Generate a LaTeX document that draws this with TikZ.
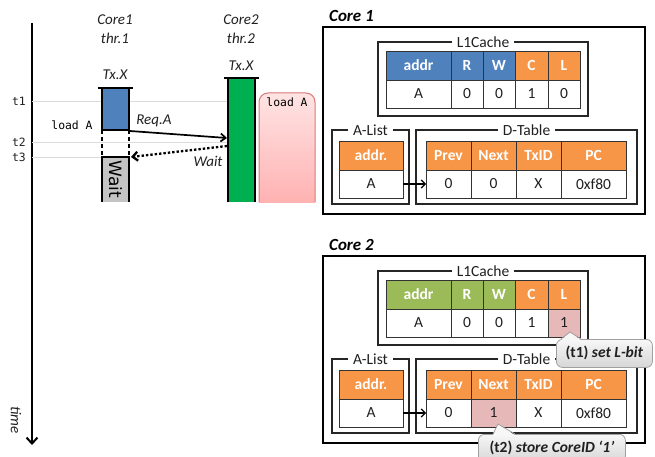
\documentclass[tikz,border=0pt]{standalone}
\usepackage{fontspec}
\setmainfont{Carlito}
\newfontfamily\monofont{DejaVu Sans Mono}
\newfontfamily\dejavufont{DejaVu Sans}
\usetikzlibrary{arrows.meta,calc}

\definecolor{hdrblue}{HTML}{4F81BD}
\definecolor{hdrorange}{HTML}{F79646}
\definecolor{hdrgreen}{HTML}{9BBB59}
\definecolor{txgreen}{HTML}{00B050}
\definecolor{markpink}{HTML}{E6B8B7}
\definecolor{loadedge}{HTML}{D9787A}
\definecolor{loadtop}{HTML}{FFE4E4}
\definecolor{loadbot}{HTML}{FFB2B2}
\definecolor{gridgray}{HTML}{DCDCDC}
\definecolor{waitgray}{HTML}{C4C4C4}
\definecolor{inktext}{HTML}{202020}
\definecolor{calltop}{HTML}{F7F7F7}
\definecolor{callbot}{HTML}{D6D6D6}
\definecolor{calledge}{HTML}{A0A0A0}

% one table cell: style, name, left x, right x, top y, text
\newcommand\tcell[6]{\node[#1, minimum width={(#4)-(#3)}] (#2) at (#3,#5) {#6};}

% one core panel: prefix, y shift, title, cache header colour,
% L fill, L value, Next fill, Next value
\newcommand\corepanel[8]{%
\begin{scope}[yshift=-#2pt]
  \node[paneltitle] (#1title) at (329,16) {#3};
  \node[panelbox, minimum width=322, minimum height=187] (#1panel) at (323,27) {};
  % L1 cache
  \node[groupbox, minimum width=210, minimum height=74] (#1cachegrp) at (378,42) {};
  \node[grouplabel] (#1cachelbl) at (#1cachegrp.north) {L1Cache};
  \tcell{hdr=#4}{#1haddr}{386}{451}{51}{addr}
  \tcell{hdr=#4}{#1hR}{451}{483}{51}{R}
  \tcell{hdr=#4}{#1hW}{483}{515}{51}{W}
  \tcell{hdr=hdrorange}{#1hC}{515}{548}{51}{C}
  \tcell{hdr=hdrorange}{#1hL}{548}{580}{51}{L}
  \tcell{val}{#1vaddr}{386}{451}{80}{A}
  \tcell{val}{#1vR}{451}{483}{80}{0}
  \tcell{val}{#1vW}{483}{515}{80}{0}
  \tcell{val}{#1vC}{515}{548}{80}{1}
  \tcell{val=#5}{#1vL}{548}{580}{80}{#6}
  % A-List
  \node[groupbox, minimum width=77, minimum height=74] (#1alistgrp) at (332,130) {};
  \node[grouplabel] (#1alistlbl) at (#1alistgrp.north) {A-List};
  \tcell{hdr=hdrorange}{#1haaddr}{339}{403}{141}{addr.}
  \tcell{val}{#1vaaddr}{339}{403}{170}{A}
  % D-Table
  \node[groupbox, minimum width=221, minimum height=74] (#1dtabgrp) at (416,130) {};
  \node[grouplabel] (#1dtablbl) at (#1dtabgrp.north) {D-Table};
  \tcell{hdr=hdrorange}{#1hprev}{426}{471}{141}{Prev}
  \tcell{hdr=hdrorange}{#1hnext}{471}{516}{141}{Next}
  \tcell{hdr=hdrorange}{#1htxid}{516}{561}{141}{TxID}
  \tcell{hdr=hdrorange}{#1hpc}{561}{626}{141}{PC}
  \tcell{val}{#1vprev}{426}{471}{170}{0}
  \tcell{val=#7}{#1vnext}{471}{516}{170}{#8}
  \tcell{val}{#1vtxid}{516}{561}{170}{X}
  \tcell{val}{#1vpc}{561}{626}{170}{0xf80}
  \draw[linkarrow] (#1vaaddr.east) -- (#1vprev.west);
\end{scope}}

\begin{document}
\begin{tikzpicture}[x=1pt,y=-1pt,
  every node/.style={text=inktext},
  lbl/.style={font=\itshape\fontsize{15}{18}\selectfont, inner sep=0pt},
  monolbl/.style={font=\monofont\fontsize{11.4}{13}\selectfont, inner sep=0pt},
  gridline/.style={draw=gridgray, line width=0.7pt},
  txbar/.style={rectangle, inner sep=0pt, outer sep=0pt, anchor=north west, minimum width=27},
  barline/.style={line width=1.3pt, draw=black},
  capline/.style={line width=2.4pt, draw=black},
  cellbase/.style={rectangle, draw=black!80, line width=0.75pt, inner sep=0pt,
    outer sep=0pt, anchor=north west},
  hdr/.style={cellbase, fill=#1, minimum height=29,
    font=\bfseries\fontsize{15.5}{18}\selectfont, text=white},
  val/.style={cellbase, fill=#1, minimum height=28, font=\fontsize{15.5}{18}\selectfont},
  val/.default=white,
  paneltitle/.style={anchor=west, inner sep=0pt,
    font=\bfseries\itshape\fontsize{17}{20}\selectfont, text=black},
  panelbox/.style={rectangle, draw=black, line width=1.5pt, inner sep=0pt,
    outer sep=0pt, anchor=north west},
  groupbox/.style={rectangle, draw=black!85, line width=1.1pt, inner sep=0pt,
    outer sep=0pt, anchor=north west},
  grouplabel/.style={fill=white, inner xsep=5pt, inner ysep=1pt,
    font=\fontsize{15.5}{18}\selectfont},
  linkarrow/.style={line width=1.2pt, -{Straight Barb[length=4pt,width=8pt]}},
  calloutbox/.style={rectangle, rounded corners=6pt, draw=calledge, line width=0.8pt,
    top color=calltop, bottom color=callbot, anchor=north west, inner sep=0pt,
    font=\fontsize{15.5}{18}\selectfont},
  calloutedge/.style={draw=calledge, line width=0.8pt, line join=round},
]
\useasboundingbox (0,0) rectangle (655,457);
\clip (0,0) rectangle (655,457);

% ---------- time line ----------
\coordinate (axtop) at (32,23);
\coordinate (axbot) at (32,445);
\draw[line width=2pt, -{Straight Barb[length=6pt,width=11pt]}] (axtop) -- (axbot);
\node[lbl, rotate=-90] (timelbl) at (16,420) {time};

\node[lbl] (c1name) at (115,20) {Core1};
\node[lbl] (c1thr) at (115,38) {thr.1};
\node[lbl] (c2name) at (241,20) {Core2};
\node[lbl] (c2thr) at (241,38) {thr.2};

\node[monolbl] (t1) at (19,101) {t1};
\node[monolbl] (t2) at (19,142) {t2};
\node[monolbl] (t3) at (19,157) {t3};

% transaction bars
\node[txbar, minimum height=124] (txtwo) at (228,78) {};
\node[txbar, minimum height=42] (txone) at (102,88) {};
\node[txbar, minimum height=45] (waitbar) at (102,157) {};

\draw[gridline] (axtop |- t1) -- (txtwo.west |- t1);
\draw[gridline] (axtop |- t2) -- (txtwo.west |- t2);
\draw[gridline] (axtop |- t3) -- (txone.west |- t3);

\fill[hdrblue] (txone.north west) rectangle (txone.south east);
\draw[barline] (txone.north west) rectangle (txone.south east);
\draw[capline] ($(txone.north west)+(-4,0)$) -- ($(txone.north east)+(4,0)$);
\node[lbl] (txonelbl) at (115,75) {Tx.X};

\draw[barline, dashed, dash pattern=on 4pt off 3pt] (txone.south west) -- (waitbar.north west);
\draw[barline, dashed, dash pattern=on 4pt off 3pt] (txone.south east) -- (waitbar.north east);

\fill[waitgray] (waitbar.north west) rectangle (waitbar.south east);
\draw[barline] (waitbar.south west) -- (waitbar.north west) -- (waitbar.north east) -- (waitbar.south east);
\node[rotate=-90, inner sep=0pt, font=\dejavufont\fontsize{17}{20}\selectfont, text=black]
  (waitlbl) at (waitbar.center) {Wait};

\fill[txgreen] (txtwo.north west) rectangle (txtwo.south east);
\draw[barline] (txtwo.south west) -- (txtwo.north west) -- (txtwo.north east) -- (txtwo.south east);
\draw[capline] ($(txtwo.north west)+(-4,0)$) -- ($(txtwo.north east)+(4,0)$);
\node[lbl] (txtwolbl) at (241,66) {Tx.X};

% remote load on core 2
\node[rectangle, inner sep=0pt, outer sep=0pt, anchor=north west,
  minimum width=56, minimum height=109] (loadbox) at (259,93) {};
\begin{scope}
  \clip[rounded corners=9pt] (loadbox.north west) rectangle ($(loadbox.south east)+(0,20)$);
  \shade[top color=loadtop, bottom color=loadbot] (loadbox.north west) rectangle (loadbox.south east);
\end{scope}
\draw[loadedge, line width=1pt, rounded corners=9pt]
  (loadbox.south west) -- (loadbox.north west) -- (loadbox.north east) -- (loadbox.south east);
\node[monolbl, text=black] (loadlbl) at (287,102) {load A};

\node[monolbl, text=black] (loadleft) at (72,125) {load A};

% request and wait messages
\draw[line width=1.7pt, -{Straight Barb[length=5pt,width=8pt]}]
  ($(txone.south east)+(1,1)$) -- ($(txtwo.west)+(-1,-2)$);
\node[lbl] (reqlbl) at (154,121) {Req.A};
\draw[line width=2.3pt, dash pattern=on 2.4pt off 2pt, -{Straight Barb[length=5pt,width=9pt]}]
  ($(txtwo.west)+(-1,6)$) -- ($(waitbar.north east)+(2,0)$);
\node[lbl] (waitmsg) at (208,161) {Wait};

% ---------- core panels ----------
\corepanel{one}{0}{Core 1}{hdrblue}{white}{0}{white}{0}
\corepanel{two}{229}{Core 2}{hdrgreen}{markpink}{1}{markpink}{1}

% callouts
\node[calloutbox, minimum width=96, minimum height=28] (setnote) at (556,339)
  {\textbf{(t1)} \textbf{\textit{set L-bit}}};
\fill[calltop] ($(setnote.north west)+(5,1.2)$) -- ($(twovL.south)+(6,-5)$) -- ($(setnote.north west)+(25,1.2)$) -- cycle;
\draw[calloutedge] ($(setnote.north west)+(5,0)$) -- ($(twovL.south)+(6,-5)$) -- ($(setnote.north west)+(25,0)$);

\node[calloutbox, minimum width=147, minimum height=28] (storenote) at (478,434)
  {\textbf{(t2)} \textbf{\textit{store CoreID ‘1’}}};
\fill[calltop] ($(storenote.north west)+(15,1.2)$) -- ($(twovnext.south)+(4.5,-3)$) -- ($(storenote.north west)+(37,1.2)$) -- cycle;
\draw[calloutedge] ($(storenote.north west)+(15,0)$) -- ($(twovnext.south)+(4.5,-3)$) -- ($(storenote.north west)+(37,0)$);
\end{tikzpicture}
\end{document}
